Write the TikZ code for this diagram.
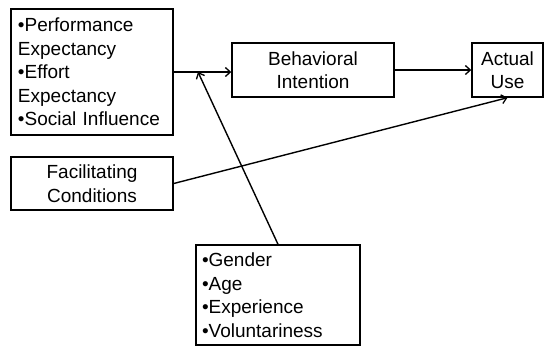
\documentclass[tikz,border=0pt]{standalone}
\usepackage{fontspec}
\setmainfont{Liberation Sans}
\usetikzlibrary{arrows.meta}
\begin{document}
\begin{tikzpicture}[x=1bp,y=-1bp,
  box/.style={draw=black,line width=1.4bp,inner ysep=0bp,font=\fontsize{19bp}{23.5bp}\selectfont},
  listbox/.style={box,align=left,inner xsep=7bp},
  centerbox/.style={box,align=center,inner xsep=2bp},
  conn/.style={line width=1.4bp,-{Straight Barb[length=5bp,width=9bp,line width=1.3bp]}}]
\useasboundingbox (0,0) rectangle (545,347);
\node[listbox,text width=148bp,minimum height=126bp] (pred) at (92,72)
  {•Performance\\Expectancy\\•Effort\\Expectancy\\•Social Influence};
\node[centerbox,minimum width=162bp,minimum height=54bp] (bi) at (313,70)
  {Behavioral\\Intention};
\node[centerbox,minimum width=71bp,minimum height=54bp] (au) at (507.5,70)
  {Actual\\Use};
\node[centerbox,minimum width=162bp,minimum height=53bp] (fc) at (92,183.5)
  {Facilitating\\Conditions};
\node[listbox,inner xsep=6bp,text width=152bp,minimum height=100bp] (mod) at (278,295)
  {•Gender\\•Age\\•Experience\\•Voluntariness};
\coordinate (m) at (198,72);
\draw[conn] (pred.east) -- (pred.east -| bi.west);
\draw[conn] (mod.north) -- (m);
\draw[conn] (bi.east) -- (au.west);
\draw[conn] (fc.east) -- (au.south);
\end{tikzpicture}
\end{document}
